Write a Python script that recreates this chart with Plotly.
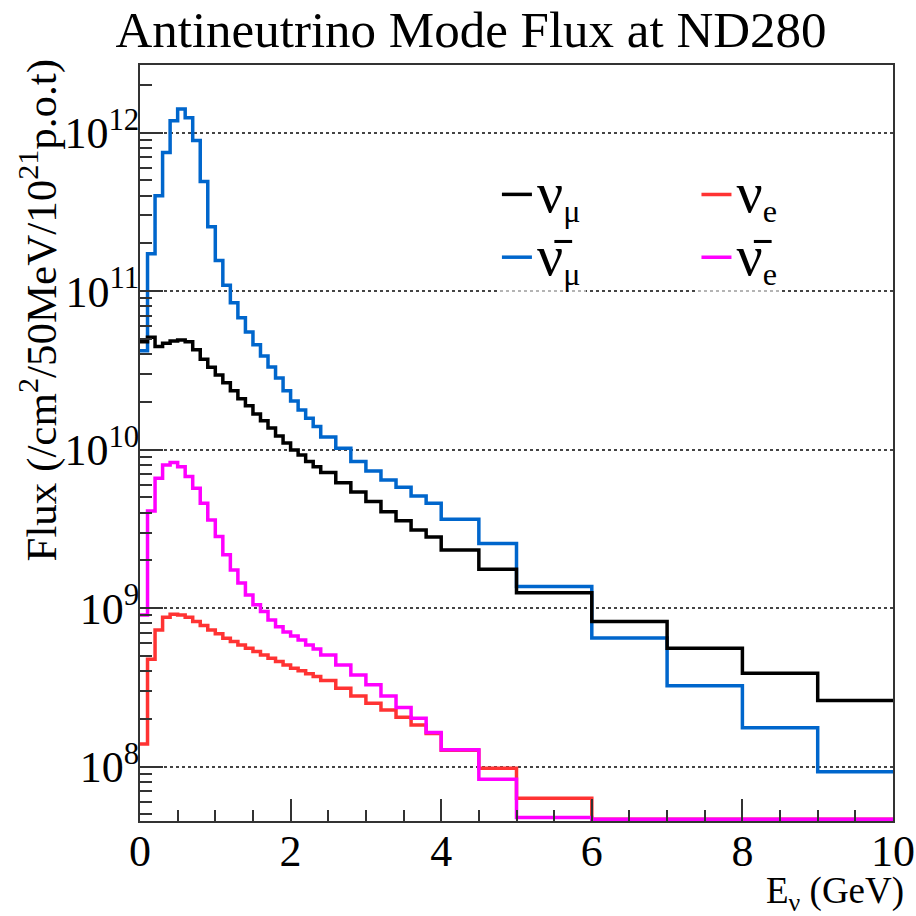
import plotly.graph_objects as go

# Bin edges (GeV)
edges = [0.0, 0.1, 0.2, 0.3, 0.4, 0.5, 0.6, 0.7, 0.8, 0.9, 1.0, 1.1, 1.2, 1.3, 1.4,
         1.5, 1.6, 1.7, 1.8, 1.9, 2.0, 2.1, 2.2, 2.3, 2.4,
         2.6, 2.8, 3.0, 3.2, 3.4, 3.6, 3.8, 4.0,
         4.5, 5.0, 6.0, 7.0, 8.0, 9.0, 10.0]

numu = [4.80e10, 5.12e10, 4.47e10, 4.69e10, 4.85e10, 4.92e10, 4.80e10, 4.26e10, 3.72e10, 3.31e10,
        2.96e10, 2.64e10, 2.35e10, 2.09e10, 1.89e10, 1.68e10, 1.52e10, 1.37e10, 1.22e10, 1.10e10,
        9.96e9, 9.26e9, 8.40e9, 7.81e9,
        7.16e9, 6.17e9, 5.41e9, 4.70e9, 4.05e9, 3.56e9, 3.11e9, 2.81e9,
        2.33e9, 1.76e9, 1.25e9, 8.22e8, 5.58e8, 3.88e8, 2.61e8]

numubar = [4.20e10, 1.72e11, 3.99e11, 7.48e11, 1.19e12, 1.41e12, 1.24e12, 8.91e11, 4.91e11, 2.55e11,
           1.56e11, 1.09e11, 8.43e10, 6.78e10, 5.53e10, 4.58e10, 3.90e10, 3.32e10, 2.83e10, 2.35e10,
           2.03e10, 1.78e10, 1.58e10, 1.40e10,
           1.20e10, 1.02e10, 8.40e9, 7.34e9, 6.44e9, 5.79e9, 5.10e9, 4.59e9,
           3.64e9, 2.56e9, 1.37e9, 6.49e8, 3.24e8, 1.76e8, 9.30e7]

nue = [1.39e8, 4.76e8, 7.29e8, 8.76e8, 9.15e8, 9.06e8, 8.76e8, 8.22e8, 7.76e8, 7.29e8,
       6.88e8, 6.46e8, 6.15e8, 5.86e8, 5.58e8, 5.32e8, 5.07e8, 4.83e8, 4.60e8, 4.38e8,
       4.18e8, 4.02e8, 3.85e8, 3.70e8,
       3.49e8, 3.12e8, 2.79e8, 2.51e8, 2.28e8, 2.05e8, 1.83e8, 1.62e8,
       1.27e8, 9.77e7, 6.32e7, 4.65e7, 4.65e7, 4.65e7, 4.65e7]

nuebar = [9.06e8, 4.10e9, 6.60e9, 8.00e9, 8.28e9, 7.81e9, 6.76e9, 5.71e9, 4.59e9, 3.60e9,
          2.83e9, 2.17e9, 1.74e9, 1.44e9, 1.21e9, 1.05e9, 9.51e8, 8.43e8, 7.64e8, 7.08e8,
          6.68e8, 6.30e8, 5.86e8, 5.53e8,
          5.07e8, 4.38e8, 3.79e8, 3.28e8, 2.79e8, 2.36e8, 2.02e8, 1.64e8,
          1.28e8, 8.32e7, 4.77e7, 4.65e7, 4.65e7, 4.65e7, 4.65e7]

x_ticks = [0, 2, 4, 6, 8, 10]
y_tick_vals = [1e8, 1e9, 1e10, 1e11, 1e12]
y_tick_text = ["10<sup>8</sup>", "10<sup>9</sup>", "10<sup>10</sup>", "10<sup>11</sup>", "10<sup>12</sup>"]

FONT = "Liberation Serif"
NU = "<span style='font-size:58px'>\u03bd</span>"
NUBAR = "<span style='font-size:58px'>\u03bd\u0304</span>"

series = [
    ("numubar", numubar, "#0066CC", NUBAR + "<sub>\u03bc</sub>", "legend", 2),
    ("numu", numu, "#000000", NU + "<sub>\u03bc</sub>", "legend", 1),
    ("nue", nue, "#FF3333", NU + "<sub>e</sub>", "legend2", 1),
    ("nuebar", nuebar, "#FF00FF", NUBAR + "<sub>e</sub>", "legend2", 2),
]

fig = go.Figure()
for key, vals, color, label, leg, rank in series:
    fig.add_trace(go.Scatter(
        x=edges, y=list(vals) + [vals[-1]],
        mode="lines", line=dict(shape="hv", color=color, width=3.5),
        name=label, legend=leg, legendrank=rank,
    ))

minor_y = [m * 10 ** e for e in range(7, 13) for m in range(2, 10)]

fig.update_layout(
    template="none",
    width=916, height=916, autosize=False,
    paper_bgcolor="white", plot_bgcolor="white",
    margin=dict(l=140, r=23, t=65, b=95, pad=0),
    font=dict(family=FONT, color="black"),
    title=dict(text="Antineutrino Mode Flux at ND280", font=dict(size=51, family=FONT),
               x=471 / 916, xanchor="center", xref="container",
               y=0.988, yanchor="top", yref="container"),
    xaxis=dict(range=[0, 10], showline=True, mirror=True, linecolor="#333", linewidth=2,
               ticks="inside", ticklen=22, tickwidth=1.5, tickcolor="#333",
               tickvals=x_ticks, tickfont=dict(size=44, family=FONT),
               ticklabelstandoff=-10, automargin=False,
               minor=dict(ticks="inside", ticklen=11, tickwidth=1.5, tickcolor="#333", dtick=0.5,
                          showgrid=False),
               showgrid=False, zeroline=False),
    yaxis=dict(type="log", range=[7.657, 12.4265], showline=True, mirror=True,
               linecolor="#333", linewidth=2,
               ticks="inside", ticklen=23, tickwidth=1.5, tickcolor="#333",
               tickvals=y_tick_vals, ticktext=y_tick_text, tickfont=dict(size=44, family=FONT),
               ticklabelstandoff=-10, automargin=False,
               minor=dict(ticks="inside", ticklen=12, tickwidth=1.5, tickcolor="#333",
                          tickvals=minor_y, showgrid=False),
               showgrid=True, gridcolor="#444", griddash="dot", gridwidth=1.5,
               zeroline=False),
    legend=dict(x=0.474, y=0.877, xanchor="left", yanchor="top",
                bgcolor="rgba(255,255,255,0.6)", font=dict(size=46, family=FONT),
                tracegroupgap=0, itemwidth=30, borderwidth=0),
    legend2=dict(x=0.739, y=0.877, xanchor="left", yanchor="top",
                 bgcolor="rgba(255,255,255,0.6)", font=dict(size=46, family=FONT),
                 tracegroupgap=0, itemwidth=30, borderwidth=0),
    showlegend=True,
)

fig.add_annotation(text="E<sub>\u03bd</sub> (GeV)", xref="paper", yref="paper",
                   x=1.017, y=-0.062, xanchor="right", yanchor="top", showarrow=False,
                   font=dict(size=37, family=FONT))
fig.add_annotation(text="Flux (/cm<sup>2</sup>/50MeV/10<sup>21</sup>p.o.t)", xref="paper", yref="paper",
                   x=-0.135, y=1.011, xanchor="center", yanchor="top", textangle=-90,
                   showarrow=False, font=dict(size=43, family=FONT))

fig.write_html("out.html", config={"displayModeBar": False},
               post_script="document.body.style.margin='0';document.body.style.overflow='hidden';")
